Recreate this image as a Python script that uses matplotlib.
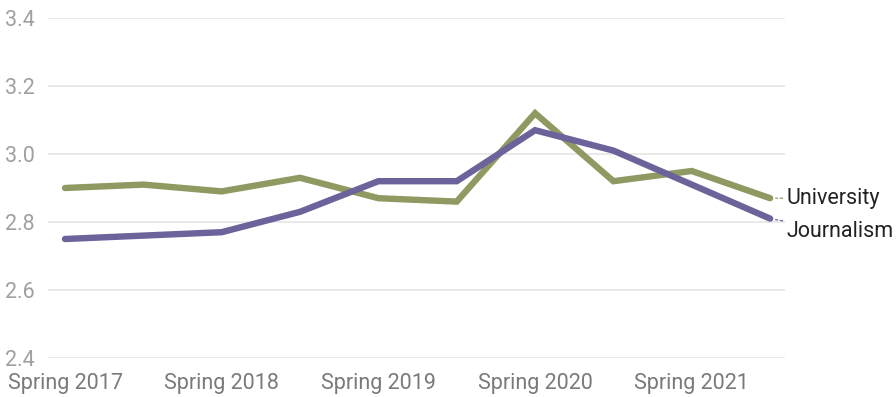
import matplotlib
matplotlib.use('Agg')
import matplotlib.pyplot as plt

semesters = ["Spring 2017", "Fall 2017", "Spring 2018", "Fall 2018", "Spring 2019",
             "Fall 2019", "Spring 2020", "Fall 2020", "Spring 2021", "Fall 2021"]
university = [2.90, 2.91, 2.89, 2.93, 2.87, 2.86, 3.12, 2.92, 2.95, 2.87]
journalism = [2.75, 2.76, 2.77, 2.83, 2.92, 2.92, 3.07, 3.01, 2.91, 2.81]
y_ticks = [2.4, 2.6, 2.8, 3.0, 3.2, 3.4]

colors = {"University": "#8f9a62", "Journalism": "#6b6399"}

plt.rcParams['font.family'] = ['Roboto', 'DejaVu Sans']

fig = plt.figure(figsize=(8.96, 3.97), dpi=100)
ax = fig.add_axes([48 / 896, 1 - 358 / 397, (785 - 48) / 896, (358 - 18) / 397])

x = list(range(len(semesters)))
ax.plot(x, university, color=colors["University"], linewidth=4.6,
        solid_joinstyle='miter', solid_capstyle='round', zorder=3)
ax.plot(x, journalism, color=colors["Journalism"], linewidth=4.6,
        solid_joinstyle='miter', solid_capstyle='round', zorder=4)

ax.set_xlim(-0.217, len(semesters) - 1 + 0.19)
ax.set_ylim(y_ticks[0], y_ticks[-1])
ax.set_yticks(y_ticks)
ax.set_yticklabels([f"{v:.1f}" for v in y_ticks])
ax.set_xticks(x[::2])
ax.set_xticklabels(semesters[::2])

ax.grid(axis='y', color='#e3e3e3', linewidth=1.1)
ax.set_axisbelow(True)
for s in ax.spines.values():
    s.set_visible(False)

ax.tick_params(axis='y', length=0, pad=31, labelsize=15.5, labelcolor='#a0a0a0')
ax.tick_params(axis='x', length=0, pad=11, labelsize=15.5, labelcolor='#7a7a7a')
for lab in ax.get_yticklabels():
    lab.set_horizontalalignment('left')

# end-of-line series labels
for name, vals, offset in [("University", university, (12, 0)),
                           ("Journalism", journalism, (12, -9))]:
    ax.annotate(name, xy=(x[-1], vals[-1]), xytext=offset, textcoords='offset points',
                ha='left', va='center', fontsize=15.5, color='#222222',
                annotation_clip=False,
                arrowprops=dict(arrowstyle='-', color=colors[name], lw=0.9,
                                linestyle=(0, (2, 2)), shrinkA=1, shrinkB=4))

fig.savefig("out.png", dpi=100)
